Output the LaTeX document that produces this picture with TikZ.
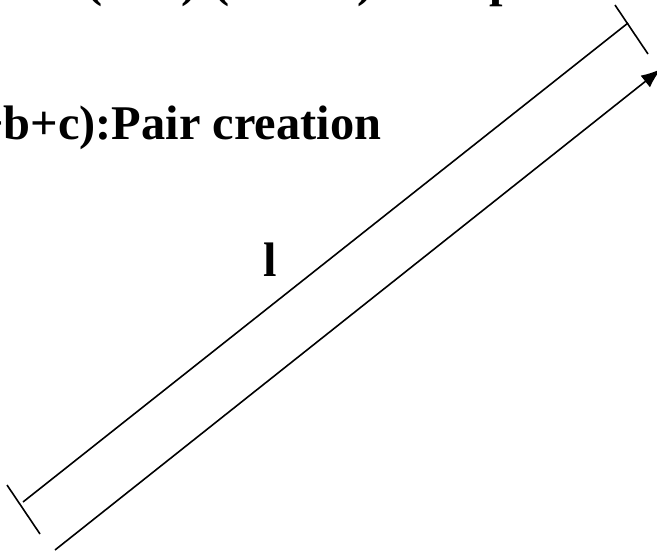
\documentclass[tikz,border=0pt]{standalone}
\usepackage{fontspec}
\setmainfont{Liberation Serif}
\usetikzlibrary{arrows.meta}

\begin{document}
\begin{tikzpicture}[x=1pt,y=-1pt,line width=1.6pt,
    label text/.style={font=\fontsize{48.4}{58}\selectfont\bfseries, inner sep=0pt}]
				\useasboundingbox (0,0) rectangle (657,552);
				\clip (0,0) rectangle (657,552);
				% Draw labels
				\node[label text, anchor=base west] (compton) at (86,-4) {(a+b)-(a+b+c):Compton};
				\node[label text, anchor=base east] (pair) at (382,139) {(a+b)-(a+b+c):Pair creation};
				\node[label text, anchor=base] (len) at (270,276) {l};
				% Draw ticks
				\coordinate (t1a) at (7,485);
				\coordinate (t1b) at (40,534);
				\coordinate (t2a) at (615,5);
				\coordinate (t2b) at (648,54);
				\draw (t1a) -- (t1b);
				\draw (t2a) -- (t2b);
				% Draw length line
				\coordinate (s) at (23,502);
				\coordinate (e) at (628,23);
				\draw (s) -- (e);
				% Draw arrow
				\coordinate (p) at (55,550);
				\coordinate (q) at (661,69);
				\draw[-{Latex[length=20pt,width=15pt]}] (p) -- (q);
			\end{tikzpicture}
\end{document}
